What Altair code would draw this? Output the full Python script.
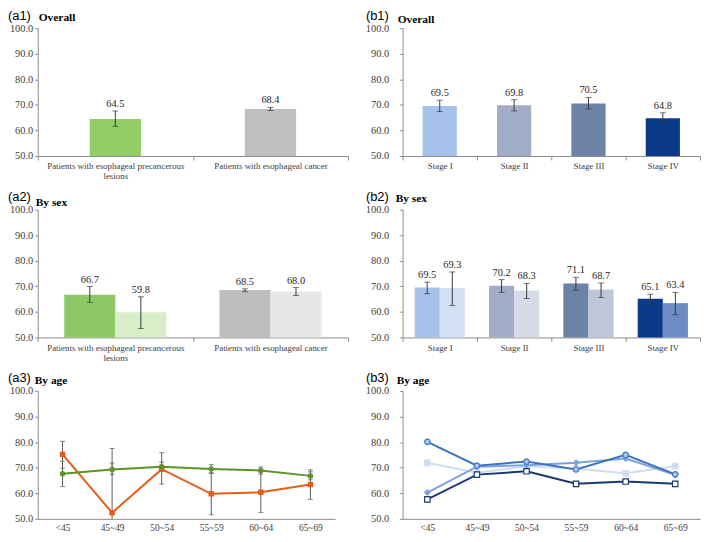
import altair as alt
import pandas as pd

# ---------------- data ----------------
Y_TICKS = [50, 60, 70, 80, 90, 100]

a_groups = ["Patients with esophageal precancerous lesions", "Patients with esophageal cancer"]
a1_mean = [64.5, 68.4]
a1_low = [61.6, 67.8]
a1_high = [67.6, 69.0]
a1_colors = ["#92cd66", "#bfbfbf"]

sexes = ["Male", "Female"]
a2_male_mean = [66.7, 68.5]
a2_male_low = [63.7, 67.9]
a2_male_high = [69.9, 69.0]
a2_female_mean = [59.8, 68.0]
a2_female_low = [53.5, 66.4]
a2_female_high = [65.9, 69.5]
a2_male_colors = ["#8ec866", "#bdbdbd"]
a2_female_colors = ["#d8eec8", "#e6e6e6"]

stages = ["Stage I", "Stage II", "Stage III", "Stage IV"]
b1_mean = [69.5, 69.8, 70.5, 64.8]
b1_low = [67.4, 67.6, 68.4, 63.0]
b1_high = [71.8, 72.0, 72.9, 66.9]
stage_colors = ["#a7c2ea", "#a1adc6", "#6d82a7", "#0c3a8b"]
stage_light_colors = ["#d3e0f4", "#d6dbe6", "#bdc7d9", "#6d8cc4"]

b2_male_mean = [69.5, 70.2, 71.1, 65.1]
b2_male_low = [67.1, 67.6, 68.5, 62.9]
b2_male_high = [71.6, 72.6, 73.5, 66.9]
b2_female_mean = [69.3, 68.3, 68.7, 63.4]
b2_female_low = [62.5, 65.2, 65.6, 58.9]
b2_female_high = [75.6, 71.1, 71.3, 67.6]

age_groups = ["<45", "45~49", "50~54", "55~59", "60~64", "65~69"]
a3_series = ["Patients with esophageal precancerous lesions", "Patients with esophageal cancer"]
a3_precancer_mean = [75.2, 52.4, 69.4, 59.8, 60.4, 63.4]
a3_precancer_low = [69.8, 27.3, 63.6, 51.6, 52.5, 57.6]
a3_precancer_high = [80.3, 77.5, 75.9, 68.0, 68.3, 69.2]
a3_cancer_mean = [67.6, 69.3, 70.4, 69.5, 68.9, 66.8]
a3_cancer_low = [62.6, 67.4, 68.6, 67.8, 67.5, 65.3]
a3_cancer_high = [72.5, 71.8, 72.2, 71.2, 70.3, 68.4]
a3_colors = ["#e65c17", "#5b9427"]
a3_shapes = ["square", "circle"]

b3_stage1 = [71.9, 68.0, 70.6, 69.6, 67.8, 70.6]
b3_stage2 = [60.3, 70.4, 71.0, 71.9, 73.6, 67.2]
b3_stage3 = [80.1, 70.8, 72.4, 69.3, 75.0, 67.4]
b3_stage4 = [57.6, 67.3, 68.6, 63.7, 64.6, 63.7]
b3_line_colors = ["#cfddf2", "#7aa3da", "#3d73c4", "#1b3971"]
b3_fill_colors = ["#cfddf2", "#7aa3da", "#a9c6ee", "#ffffff"]
b3_shapes = ["square", "diamond", "circle", "square"]

panel_tags = ["(a1)", "(b1)", "(a2)", "(b2)", "(a3)", "(b3)"]
panel_heads = ["Overall", "Overall", "By sex", "By sex", "By age", "By age"]

# ---------------- style ----------------
SERIF = "'Liberation Serif', 'Times New Roman', serif"
SANS = "'Liberation Sans', Arial, sans-serif"
GRAY = "#8c8c8c"
INK = "#404040"
ERR = "#3a3a3a"
PH = 129          # plot height
WA = 313          # width of a1/a2
WL = 300          # width of a3 and b panels

wrap_expr = ("datum.label == 'Patients with esophageal precancerous lesions' ? "
             "['Patients with esophageal precancerous', 'lesions'] : datum.label")


def y_enc(field, pad):
    return alt.Y(field, type="quantitative",
                 scale=alt.Scale(domain=[50, 100], nice=False, zero=False, clamp=True),
                 axis=alt.Axis(values=Y_TICKS, tickCount=6, format=".1f", tickSize=3,
                               labelPadding=pad, labelFontSize=10.5, labelFont=SERIF,
                               labelOverlap=False, labelBound=False, labelFlush=False,
                               title=None))


def band_x(field, order, expr=None):
    kw = dict(title=None, labelAngle=0, tickBand="extent", tickSize=4,
              labelPadding=2, labelFontSize=9, labelLineHeight=10, labelLimit=0,
              labelFont=SERIF, labelOverlap=False)
    if expr:
        kw["labelExpr"] = expr
    return alt.X(field, type="nominal", sort=order,
                 scale=alt.Scale(paddingInner=0, paddingOuter=0), axis=alt.Axis(**kw))


def point_x():
    return alt.X("age:N", sort=age_groups,
                 scale=alt.Scale(type="point", padding=0.5),
                 axis=alt.Axis(title=None, labelAngle=0, ticks=False, labelFont=SERIF,
                               labelPadding=4, labelFontSize=9.5, labelOverlap=False))


def heading(i, tag_x, tag_y, head_x, head_y):
    df = pd.DataFrame({"tag": [panel_tags[i]], "head": [panel_heads[i]]})
    base = alt.Chart(df)
    tag = base.mark_text(align="left", baseline="alphabetic", font=SANS,
                         fontSize=13, color="#000000").encode(
        x=alt.value(tag_x), y=alt.value(tag_y), text="tag:N")
    head = base.mark_text(align="left", baseline="alphabetic", font=SERIF,
                          fontSize=11.5, fontWeight="bold", color="#000000").encode(
        x=alt.value(head_x), y=alt.value(head_y), text="head:N")
    return [tag, head]


def simple_bars(df, order, colors, band, pad, width, expr, head):
    x = band_x("group", order, expr)
    base = alt.Chart(df)
    bars = base.mark_bar(width=alt.RelativeBandSize(band)).encode(
        x=x, y=y_enc("mean", pad),
        color=alt.Color("group:N", scale=alt.Scale(domain=order, range=colors), legend=None))
    err = base.mark_rule(color=ERR, strokeWidth=1).encode(x=x, y=y_enc("low", pad), y2="high:Q")
    cap_lo = base.mark_tick(color=ERR, size=6, thickness=1).encode(x=x, y=y_enc("low", pad))
    cap_hi = base.mark_tick(color=ERR, size=6, thickness=1).encode(x=x, y=y_enc("high", pad))
    txt = base.mark_text(baseline="bottom", dy=-2, font=SERIF, fontSize=10.5,
                         color="#262626").encode(
        x=x, y=y_enc("high", pad), text=alt.Text("mean:Q", format=".1f"))
    return alt.layer(bars, err, cap_lo, cap_hi, txt, *head).properties(width=width, height=PH)


def grouped_bars(df, order, keys, colors, pad_outer, pad, width, expr, head):
    x = band_x("group", order, expr)
    xo = alt.XOffset("sex:N", sort=sexes,
                     scale=alt.Scale(domain=sexes, paddingInner=0, paddingOuter=pad_outer))
    base = alt.Chart(df)
    bars = base.mark_bar().encode(
        x=x, xOffset=xo, y=y_enc("mean", pad),
        color=alt.Color("key:N", scale=alt.Scale(domain=keys, range=colors), legend=None))
    err = base.mark_rule(color=ERR, strokeWidth=1).encode(
        x=x, xOffset=xo, y=y_enc("low", pad), y2="high:Q")
    cap_lo = base.mark_tick(color=ERR, size=6, thickness=1).encode(
        x=x, xOffset=xo, y=y_enc("low", pad))
    cap_hi = base.mark_tick(color=ERR, size=6, thickness=1).encode(
        x=x, xOffset=xo, y=y_enc("high", pad))
    txt = base.mark_text(baseline="bottom", dy=-2, font=SERIF, fontSize=10.5,
                         color="#262626").encode(
        x=x, xOffset=xo, y=y_enc("high", pad), text=alt.Text("mean:Q", format=".1f"))
    return alt.layer(bars, err, cap_lo, cap_hi, txt, *head).properties(width=width, height=PH)


# ---------------- panel a1 ----------------
a1_df = pd.DataFrame({"group": a_groups, "mean": a1_mean, "low": a1_low, "high": a1_high})
a1 = simple_bars(a1_df, a_groups, a1_colors, 0.33, 2, WA, wrap_expr,
                 heading(0, -30, -8, 1, -7))

# ---------------- panel b1 ----------------
b1_df = pd.DataFrame({"group": stages, "mean": b1_mean, "low": b1_low, "high": b1_high})
b1 = simple_bars(b1_df, stages, stage_colors, 0.46, 11, WL, None,
                 heading(1, -37, -8, -5, -5))

# ---------------- panel a2 ----------------
rows = []
for g, m, lo, hi in zip(a_groups, a2_male_mean, a2_male_low, a2_male_high):
    rows.append({"group": g, "sex": "Male", "key": g + "|Male", "mean": m, "low": lo, "high": hi})
for g, m, lo, hi in zip(a_groups, a2_female_mean, a2_female_low, a2_female_high):
    rows.append({"group": g, "sex": "Female", "key": g + "|Female", "mean": m, "low": lo, "high": hi})
a2_df = pd.DataFrame(rows)
a2_keys = [g + "|Male" for g in a_groups] + [g + "|Female" for g in a_groups]
a2 = grouped_bars(a2_df, a_groups, a2_keys, a2_male_colors + a2_female_colors, 0.52, 2, WA,
                  wrap_expr, heading(2, -30, -9, -2, -4))

# ---------------- panel b2 ----------------
rows = []
for g, m, lo, hi in zip(stages, b2_male_mean, b2_male_low, b2_male_high):
    rows.append({"group": g, "sex": "Male", "key": g + "|Male", "mean": m, "low": lo, "high": hi})
for g, m, lo, hi in zip(stages, b2_female_mean, b2_female_low, b2_female_high):
    rows.append({"group": g, "sex": "Female", "key": g + "|Female", "mean": m, "low": lo, "high": hi})
b2_df = pd.DataFrame(rows)
b2_keys = [g + "|Male" for g in stages] + [g + "|Female" for g in stages]
b2 = grouped_bars(b2_df, stages, b2_keys, stage_colors + stage_light_colors, 0.48, 11, WL,
                  None, heading(3, -37, -9, -7, -8))

# ---------------- panel a3 ----------------
rows = []
for a, m, lo, hi in zip(age_groups, a3_precancer_mean, a3_precancer_low, a3_precancer_high):
    rows.append({"series": a3_series[0], "age": a, "mean": m, "low": lo, "high": hi})
for a, m, lo, hi in zip(age_groups, a3_cancer_mean, a3_cancer_low, a3_cancer_high):
    rows.append({"series": a3_series[1], "age": a, "mean": m, "low": lo, "high": hi})
a3_df = pd.DataFrame(rows)
xl = point_x()
base = alt.Chart(a3_df)
a3_color = alt.Color("series:N", scale=alt.Scale(domain=a3_series, range=a3_colors), legend=None)
a3_err = base.mark_rule(color="#5a5a5a", strokeWidth=1).encode(
    x=xl, y=y_enc("low", 2), y2="high:Q")
a3_cap_lo = base.mark_tick(color="#5a5a5a", size=5, thickness=1).transform_filter(
    "datum.low >= 50").encode(x=xl, y=y_enc("low", 2))
a3_cap_hi = base.mark_tick(color="#5a5a5a", size=5, thickness=1).encode(x=xl, y=y_enc("high", 2))
a3_line = base.mark_line(strokeWidth=2).encode(x=xl, y=y_enc("mean", 2), color=a3_color)
a3_pts = base.mark_point(filled=True, size=30, opacity=1).encode(
    x=xl, y=y_enc("mean", 2), color=a3_color,
    shape=alt.Shape("series:N", scale=alt.Scale(domain=a3_series, range=a3_shapes), legend=None))
a3 = alt.layer(a3_err, a3_cap_lo, a3_cap_hi, a3_line, a3_pts,
               *heading(4, -30, -9, -3, -7)).properties(width=WL, height=PH)

# ---------------- panel b3 ----------------
rows = []
for s, vals in zip(stages, [b3_stage1, b3_stage2, b3_stage3, b3_stage4]):
    for a, v in zip(age_groups, vals):
        rows.append({"stage": s, "age": a, "mean": v})
b3_df = pd.DataFrame(rows)
base = alt.Chart(b3_df)
b3_line = base.mark_line(strokeWidth=2).encode(
    x=point_x(), y=y_enc("mean", 11),
    color=alt.Color("stage:N", scale=alt.Scale(domain=stages, range=b3_line_colors), legend=None))
b3_pts = base.mark_point(size=30, strokeWidth=1.2, opacity=1).encode(
    x=point_x(), y=y_enc("mean", 11),
    fill=alt.Fill("stage:N", scale=alt.Scale(domain=stages, range=b3_fill_colors), legend=None),
    stroke=alt.Stroke("stage:N", scale=alt.Scale(domain=stages, range=b3_line_colors), legend=None),
    shape=alt.Shape("stage:N", scale=alt.Scale(domain=stages, range=b3_shapes), legend=None))
b3 = alt.layer(b3_line, b3_pts, *heading(5, -37, -9, -6, -7)).properties(width=WL, height=PH)

# ---------------- assemble ----------------
chart = alt.concat(a1, b1, a2, b2, a3, b3, columns=2,
                   spacing=alt.RowColnumber(row=54, column=55)).properties(
    bounds="flush", align="all", padding=0, background="#ffffff"
).resolve_scale(
    x="independent", y="independent", color="independent", xOffset="independent",
    shape="independent", fill="independent", stroke="independent"
).configure_axis(
    labelFont=SERIF, labelColor=INK, domainColor=GRAY, tickColor=GRAY,
    grid=False, domainWidth=1, tickWidth=1
).configure_view(stroke=None)

chart.save("out.html", embed_options={"renderer": "svg", "actions": False})
